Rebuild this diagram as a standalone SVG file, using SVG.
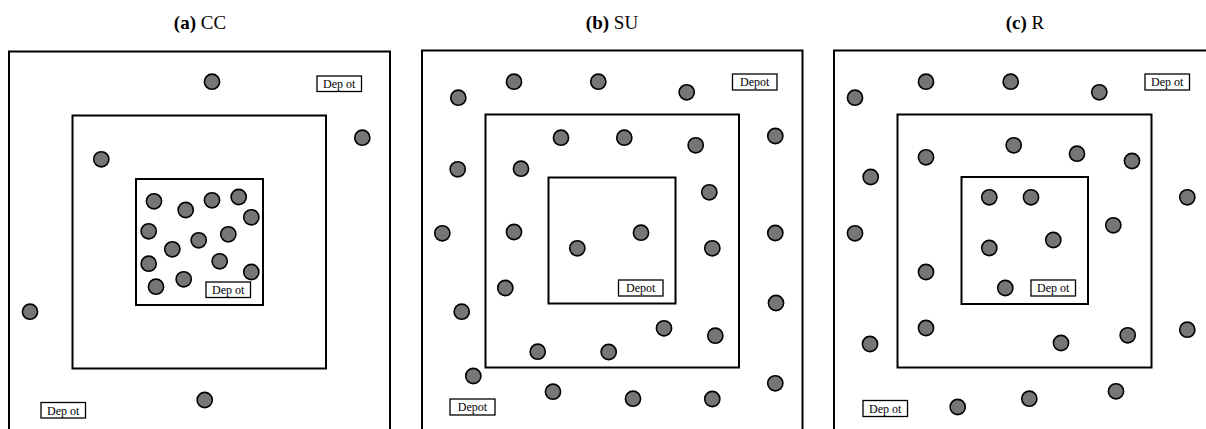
<svg xmlns="http://www.w3.org/2000/svg" width="1206" height="429" viewBox="0 0 1206 429">
<style>
.frame{fill:none;stroke:#000;stroke-width:2}
.c{fill:#767676;stroke:#000;stroke-width:1.6}
.db{fill:#fff;stroke:#000;stroke-width:1.3}
.dt{font-family:"Liberation Serif",serif;font-size:12px;fill:#000;text-anchor:middle}
.title{font-family:"Liberation Serif",serif;font-size:19px;fill:#000;text-anchor:middle}
</style>
<rect width="1206" height="429" fill="#fff"/>
<defs>
<circle id="n" r="7.6" class="c"/>
</defs>

<g id="panel-a">
<text class="title" x="200" y="29"><tspan font-weight="bold">(a)</tspan> CC</text>
<rect class="frame" x="9" y="51.5" width="381" height="382"/>
<rect class="frame" x="72.5" y="115.5" width="253.5" height="253"/>
<rect class="frame" x="136" y="179" width="127" height="126"/>
<g id="a-nodes">
<use href="#n" x="212" y="81.7"/><use href="#n" x="362.3" y="137.7"/><use href="#n" x="101.3" y="159.3"/>
<use href="#n" x="154" y="201.3"/><use href="#n" x="185.7" y="210"/><use href="#n" x="212" y="200.3"/>
<use href="#n" x="238.7" y="197"/><use href="#n" x="251.3" y="217.3"/><use href="#n" x="148.7" y="231.3"/>
<use href="#n" x="198.7" y="240.3"/><use href="#n" x="228.3" y="234.3"/><use href="#n" x="172.3" y="249.3"/>
<use href="#n" x="148.7" y="263.7"/><use href="#n" x="219.7" y="261.3"/><use href="#n" x="251.3" y="272"/>
<use href="#n" x="156" y="286.7"/><use href="#n" x="183.7" y="279.3"/><use href="#n" x="30" y="311.7"/>
<use href="#n" x="204.7" y="400"/>
</g>
<g id="a-depot-1"><rect class="db" x="317" y="76" width="44.5" height="15.5"/><text class="dt" x="339.2" y="88">Dep ot</text></g>
<g id="a-depot-2"><rect class="db" x="206" y="282" width="44.5" height="15.5"/><text class="dt" x="228.2" y="294">Dep ot</text></g>
<g id="a-depot-3"><rect class="db" x="41" y="402.5" width="44.5" height="15.5"/><text class="dt" x="63.2" y="414.5">Dep ot</text></g>
</g>

<g id="panel-b">
<text class="title" x="612" y="29"><tspan font-weight="bold">(b)</tspan> SU</text>
<rect class="frame" x="422" y="50.5" width="380.5" height="382"/>
<rect class="frame" x="485.5" y="114.5" width="253.5" height="253"/>
<rect class="frame" x="548.5" y="177.5" width="127" height="126"/>
<g id="b-nodes">
<use href="#n" x="514" y="81.7"/><use href="#n" x="598.3" y="81.7"/><use href="#n" x="458.3" y="97.7"/>
<use href="#n" x="686.7" y="92.3"/><use href="#n" x="775.3" y="136"/><use href="#n" x="561" y="137.7"/>
<use href="#n" x="624.3" y="137.7"/><use href="#n" x="695.7" y="145.3"/><use href="#n" x="457.7" y="169.3"/>
<use href="#n" x="521" y="168.7"/><use href="#n" x="709.3" y="192.3"/><use href="#n" x="442.3" y="233.3"/>
<use href="#n" x="514" y="232"/><use href="#n" x="641" y="232.7"/><use href="#n" x="577.3" y="248.3"/>
<use href="#n" x="712.3" y="248.3"/><use href="#n" x="775.3" y="233"/><use href="#n" x="505.3" y="288"/>
<use href="#n" x="461.7" y="311.7"/><use href="#n" x="776" y="303"/><use href="#n" x="664" y="328.3"/>
<use href="#n" x="715.3" y="335.7"/><use href="#n" x="537.7" y="351.7"/><use href="#n" x="608.7" y="352"/>
<use href="#n" x="473.3" y="376"/><use href="#n" x="775.3" y="383.3"/><use href="#n" x="553" y="391.7"/>
<use href="#n" x="633" y="398.7"/><use href="#n" x="712.3" y="399"/>
</g>
<g id="b-depot-1"><rect class="db" x="732.5" y="74" width="44.5" height="16"/><text class="dt" x="754.7" y="86.2">Depot</text></g>
<g id="b-depot-2"><rect class="db" x="618.5" y="280" width="44.5" height="16"/><text class="dt" x="640.7" y="292.2">Depot</text></g>
<g id="b-depot-3"><rect class="db" x="450" y="399" width="45" height="16"/><text class="dt" x="472.5" y="411.2">Depot</text></g>
</g>

<g id="panel-c">
<text class="title" x="1025" y="29"><tspan font-weight="bold">(c)</tspan> R</text>
<rect class="frame" x="834" y="50.5" width="381" height="382"/>
<rect class="frame" x="897.5" y="114.5" width="254" height="253"/>
<rect class="frame" x="961.5" y="177" width="126.5" height="127"/>
<g id="c-nodes">
<use href="#n" x="926" y="81.7"/><use href="#n" x="1010.7" y="81.7"/><use href="#n" x="855" y="97.7"/>
<use href="#n" x="1099.3" y="92.3"/><use href="#n" x="1013.7" y="145.3"/><use href="#n" x="1077" y="153.7"/>
<use href="#n" x="926" y="157.3"/><use href="#n" x="1132" y="161"/><use href="#n" x="870.7" y="177"/>
<use href="#n" x="989.3" y="197.3"/><use href="#n" x="1031" y="197.3"/><use href="#n" x="1187.3" y="197.3"/>
<use href="#n" x="1113.3" y="225.3"/><use href="#n" x="855" y="233.3"/><use href="#n" x="1053.3" y="240"/>
<use href="#n" x="989.3" y="248"/><use href="#n" x="926" y="272"/><use href="#n" x="1005.3" y="288"/>
<use href="#n" x="926" y="328"/><use href="#n" x="1187.3" y="329.7"/><use href="#n" x="1127.7" y="335.3"/>
<use href="#n" x="870" y="344"/><use href="#n" x="1061" y="343"/><use href="#n" x="1116" y="391.3"/>
<use href="#n" x="1029.3" y="398.7"/><use href="#n" x="957.7" y="407"/>
</g>
<g id="c-depot-1"><rect class="db" x="1145" y="74" width="44.5" height="16"/><text class="dt" x="1167.2" y="86">Dep ot</text></g>
<g id="c-depot-2"><rect class="db" x="1031" y="280" width="44.5" height="16"/><text class="dt" x="1053.2" y="292">Dep ot</text></g>
<g id="c-depot-3"><rect class="db" x="863" y="400.5" width="44.5" height="16"/><text class="dt" x="885.2" y="412.5">Dep ot</text></g>
</g>
<g id="connectors"/>
</svg>
